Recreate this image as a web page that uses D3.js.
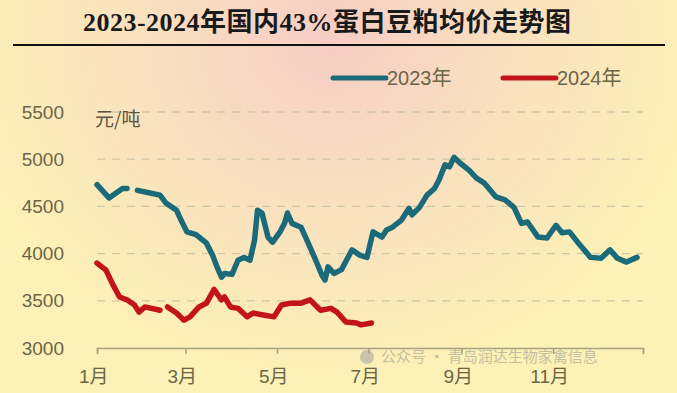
<!DOCTYPE html>
<html>
<head>
<meta charset="utf-8">
<script src="https://cdn.jsdelivr.net/npm/d3@7"></script>
<style>
  html, body { margin: 0; padding: 0; }
  #chart { width: 677px; height: 393px; }
</style>
</head>
<body>
<div id="chart"></div>
<script>
"use strict";

const title = "2023-2024年国内43%蛋白豆粕均价走势图";
const unitLabel = "元/吨";
const seriesNames = ["2023年", "2024年"];
const yTicks = [3000, 3500, 4000, 4500, 5000, 5500];
const monthTicks = ["01-01", "03-01", "05-01", "07-01", "09-01", "11-01", "12-31"];
const monthLabels = ["1月", "3月", "5月", "7月", "9月", "11月", ""];

// null = no quote (spring festival)
const dates2023 = [
  "01-01", "01-09", "01-18", "01-21", "01-24", "01-28", "02-03", "02-12", "02-16", "02-23",
  "02-26", "03-02", "03-08", "03-15", "03-19", "03-22", "03-25", "03-27", "04-01", "04-05",
  "04-09", "04-13", "04-16", "04-18", "04-21", "04-25", "04-28", "05-03", "05-06", "05-08",
  "05-11", "05-17", "05-21", "05-26", "05-31", "06-02", "06-04", "06-08", "06-13", "06-20",
  "06-25", "06-30", "07-04", "07-10", "07-13", "07-17", "07-23", "07-28", "07-30", "08-04",
  "08-09", "08-14", "08-17", "08-21", "08-24", "08-27", "08-31", "09-06", "09-11", "09-16",
  "09-24", "09-30", "10-06", "10-11", "10-15", "10-22", "10-28", "11-03", "11-07", "11-12",
  "11-18", "11-26", "12-03", "12-09", "12-14", "12-20", "12-27"
];
const values2023 = [
  4730, 4590, 4690, 4690, null, 4670, 4650, 4620, 4535, 4460,
  4355, 4230, 4200, 4110, 3985, 3860, 3750, 3790, 3780, 3930,
  3960, 3930, 4140, 4460, 4430, 4175, 4120, 4230, 4320, 4430,
  4320, 4280, 4140, 3960, 3770, 3720, 3860, 3790, 3830, 4040,
  3985, 3960, 4230, 4175, 4250, 4280, 4355, 4480, 4410, 4490,
  4620, 4690, 4780, 4940, 4920, 5020, 4960, 4885, 4800, 4750,
  4600, 4570, 4490, 4320, 4335, 4175, 4165, 4300, 4220, 4230,
  4110, 3960, 3950, 4040, 3950, 3910, 3960
];

const dates2024 = [
  "01-01", "01-07", "01-11", "01-16", "01-21", "01-26", "01-29", "02-02", "02-12", "02-14",
  "02-17", "02-23", "02-28", "03-04", "03-10", "03-15", "03-20", "03-25", "03-27", "03-31",
  "04-05", "04-11", "04-15", "04-22", "04-29", "05-04", "05-10", "05-17", "05-23", "05-30",
  "06-06", "06-10", "06-16", "06-23", "06-26", "07-03"
];
const values2024 = [
  3900, 3825, 3690, 3540, 3510, 3455, 3380, 3435, 3400, null,
  3435, 3370, 3295, 3330, 3435, 3475, 3620, 3510, 3540, 3435,
  3420, 3330, 3370, 3350, 3330, 3455, 3475, 3475, 3510, 3400,
  3420, 3380, 3275, 3265, 3245, 3265
];

const colors = ["#1b6a79", "#c3141c"];

window.addEventListener("load", draw);

const parseDay = d3.timeParse("%Y-%m-%d");
const toDate = (s) => parseDay("2023-" + s);

function draw() {
  const w = 677;
  const h = 393;
  const left = 97, right = 643, top = 112, bottom = 348;

  const svg = d3.select("#chart").append("svg")
    .attr("width", w)
    .attr("height", h);

  // background
  const defs = svg.append("defs");
  const grad = defs.append("radialGradient")
    .attr("id", "bg")
    .attr("gradientUnits", "userSpaceOnUse")
    .attr("cx", 330).attr("cy", 40).attr("r", 380)
    .attr("gradientTransform", "translate(330,40) scale(1,0.9) translate(-330,-40)");
  grad.append("stop").attr("offset", "0%").attr("stop-color", "#f6cdc5");
  grad.append("stop").attr("offset", "45%").attr("stop-color", "#f9dfbf");
  grad.append("stop").attr("offset", "100%").attr("stop-color", "#fcf1b6");
  svg.append("rect").attr("width", w).attr("height", h).attr("fill", "url(#bg)");

  // title
  svg.append("text")
    .attr("x", 327).attr("y", 31)
    .attr("text-anchor", "middle")
    .attr("font-family", "'Liberation Serif', 'Noto Sans CJK SC', serif")
    .attr("font-weight", "bold")
    .attr("font-size", "26px")
    .attr("fill", "#1a1a1a")
    .attr("textLength", 488)
    .text(title);
  svg.append("line")
    .attr("x1", 13).attr("x2", 665)
    .attr("y1", 45).attr("y2", 45)
    .attr("stroke", "#111").attr("stroke-width", 2);

  const x = d3.scaleTime()
    .domain([toDate("01-01"), toDate("12-31")])
    .range([left, right]);
  const y = d3.scaleLinear()
    .domain([3000, 5500])
    .range([bottom, top]);

  const labelFont = "'Liberation Sans', 'Noto Sans CJK SC', sans-serif";
  const labelColor = "#6d6548";

  // grid
  svg.append("g")
    .selectAll("line")
    .data(yTicks.filter((d) => d > 3000))
    .join("line")
    .attr("x1", left).attr("x2", right)
    .attr("y1", (d) => y(d)).attr("y2", (d) => y(d))
    .attr("stroke", "#d0c6a8")
    .attr("stroke-width", 1.3)
    .attr("stroke-dasharray", "8,7");

  // y labels
  svg.append("g")
    .selectAll("text")
    .data(yTicks)
    .join("text")
    .attr("x", 64)
    .attr("y", (d) => y(d))
    .attr("dy", "0.35em")
    .attr("text-anchor", "end")
    .attr("font-family", labelFont)
    .attr("font-size", "19px")
    .attr("fill", labelColor)
    .text((d) => d);

  svg.append("text")
    .attr("x", 95).attr("y", 126)
    .attr("font-family", "'Noto Sans CJK SC', sans-serif")
    .attr("font-size", "19px")
    .attr("fill", "#5e5540")
    .text(unitLabel);

  // watermark, just above the month labels
  const wm = svg.append("g").attr("opacity", 0.5);
  wm.append("circle").attr("cx", 367).attr("cy", 357).attr("r", 7).attr("fill", "#9a9a9a");
  wm.append("text")
    .attr("x", 381).attr("y", 362)
    .attr("font-family", "'Noto Sans CJK SC', sans-serif")
    .attr("font-size", "15px")
    .attr("fill", "#8f8f8f")
    .text("公众号 · 青岛润达生物家禽信息");

  // x axis
  const xAxis = d3.axisBottom(x)
    .tickValues(monthTicks.map(toDate))
    .tickSize(6)
    .tickFormat((d, i) => monthLabels[i]);
  const gx = svg.append("g")
    .attr("transform", `translate(0,${bottom})`)
    .call(xAxis);
  gx.select(".domain").attr("stroke", "#a8a284").attr("stroke-width", 1.5);
  gx.selectAll(".tick line").attr("stroke", "#a8a284").attr("stroke-width", 1.5);
  gx.selectAll(".tick text")
    .attr("y", 22)
    .attr("dx", "-0.2em")
    .attr("font-family", labelFont)
    .attr("font-size", "19px")
    .attr("fill", labelColor);

  // lines
  const line = d3.line()
    .defined((d) => d.v !== null)
    .x((d) => x(d.date))
    .y((d) => y(d.v));

  const series = [
    dates2023.map((d, i) => ({ date: toDate(d), v: values2023[i] })),
    dates2024.map((d, i) => ({ date: toDate(d), v: values2024[i] })),
  ];

  svg.append("g")
    .selectAll("path")
    .data(series)
    .join("path")
    .attr("d", line)
    .attr("fill", "none")
    .attr("stroke", (d, i) => colors[i])
    .attr("stroke-width", 5.5)
    .attr("stroke-linejoin", "round")
    .attr("stroke-linecap", "round");

  // legend
  const legendX = [333, 503];
  const lg = svg.append("g")
    .selectAll("g")
    .data(seriesNames)
    .join("g")
    .attr("transform", (d, i) => `translate(${legendX[i]},78)`);
  lg.append("line")
    .attr("x1", 0).attr("x2", 53)
    .attr("stroke", (d, i) => colors[i])
    .attr("stroke-width", 5)
    .attr("stroke-linecap", "round");
  lg.append("text")
    .attr("x", 54)
    .attr("dy", "0.36em")
    .attr("font-family", labelFont)
    .attr("font-size", "20px")
    .attr("fill", labelColor)
    .text((d) => d);
}
</script>
</body>
</html>
